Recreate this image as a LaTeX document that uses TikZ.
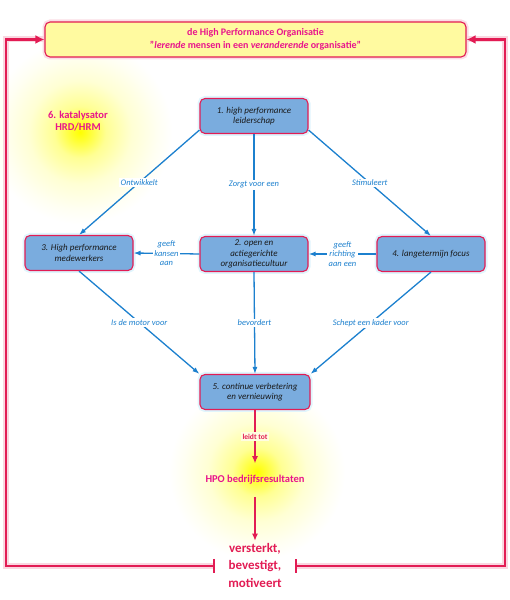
\documentclass[tikz,border=0pt]{standalone}
\usepackage{fontspec}
\setmainfont{Carlito}
\usepackage{xcolor}
\usetikzlibrary{
  arrows.meta
}
\definecolor{hpored}{RGB}{226,28,84}
\definecolor{hpomagenta}{RGB}{232,20,140}
\definecolor{boxblue}{RGB}{122,172,222}
\definecolor{relblue}{RGB}{28,128,206}
\definecolor{topyellow}{RGB}{255,250,160}
\definecolor{paleglow}{RGB}{255,253,225}
\pgfdeclareradialshading{glow}{\pgfpointorigin}{%
  color(0bp)=(yellow); color(2.5bp)=(yellow!80!white);
  color(7bp)=(yellow!42!white); color(14bp)=(yellow!17!white);
  color(21bp)=(yellow!5!white); color(25bp)=(white); color(50bp)=(white)}

\begin{document}
\begin{tikzpicture}[x=1pt, y=1pt,
  every node/.style = {align=center},
  hpobox/.style = {shape=rectangle, rounded corners=5pt,
    draw=hpored, line width=1.1pt, fill=boxblue, text=black!90,
    minimum width=108pt, minimum height=35pt, inner sep=2pt,
    font=\itshape\fontsize{9}{10.5}\selectfont,
    preaction={draw=cyan!12, line width=5pt}},
  relation/.style = {draw=relblue, line width=1.3pt,
    -{Latex[length=7pt,width=5pt]}},
  rellabel/.style = {fill=white, inner sep=1.5pt, text=relblue,
    font=\itshape\fontsize{8.5}{9.5}\selectfont},
  feedback/.style = {draw=hpored, line width=2.6pt,
    {Bar[width=14pt,line width=2pt]}-{Latex[length=9pt,width=9pt]},
    preaction={draw=hpored!18, line width=6pt, -}},
  outcome/.style = {draw=hpored, line width=1.2pt,
    -{Latex[length=7pt,width=6pt]}}]

  \useasboundingbox (0,0) rectangle (510,600);

  % glows
  \shade[shading=glow] (80,468) circle (92pt);
  \shade[shading=glow] (257,128) circle (88pt);

  % top box
  \node (hpo) at (255.5,560.5) [shape=rectangle, rounded corners=5pt,
    draw=hpored, line width=1.1pt, fill=topyellow, text=hpomagenta,
    minimum width=421pt, minimum height=35pt,
    font=\bfseries\fontsize{10}{12.5}\selectfont,
    preaction={draw=hpored!15, line width=5pt}]
    {de High Performance Organisatie\\
     "\textit{lerende} mensen in een \textit{veranderende} organisatie"};

  \node (catalyst) at (78,479) [text=hpomagenta,
    font=\bfseries\fontsize{10.5}{12.5}\selectfont]
    {6. katalysator\\HRD/HRM};

  % the five building blocks
  \node[hpobox] (lead)    at (254,484) {1. high performance\\leiderschap};
  \node[hpobox] (culture) at (254,346) {2. open en\\actiegerichte\\organisatiecultuur};
  \node[hpobox] (staff)   at (79,347)  {3. High performance\\medewerkers};
  \node[hpobox] (focus)   at (431,346) {4. langetermijn focus};
  \node[hpobox, minimum width=110pt] (improve) at (255,208)
    {5. continue verbetering\\en vernieuwing};

  \node (results) at (255,120) [text=hpomagenta, inner ysep=12pt,
    font=\bfseries\fontsize{10.5}{12.5}\selectfont]
    {HPO bedrijfsresultaten};
  \node (effect) at (255,35) [text=hpored, inner sep=2pt,
    font=\bfseries\fontsize{13}{17.5}\selectfont]
    {versterkt,\\bevestigt,\\motiveert};

  % relations
  \draw[relation] ([yshift=4pt]lead.south west) -- node[rellabel] {Ontwikkelt} (staff.north);
  \draw[relation] (lead.south) -- node[rellabel] {Zorgt voor een} (culture.north);
  \draw[relation] ([yshift=4pt]lead.south east) -- node[rellabel] {Stimuleert} (focus.north);
  \draw[relation] (culture.west) -- node[rellabel] {geeft\\kansen\\aan} (staff.east);
  \draw[relation] (focus.west) -- node[rellabel] {geeft\\richting\\aan een} (culture.east);
  \draw[relation] (staff.south) -- node[rellabel] {Is de motor voor} (improve.north west);
  \draw[relation] (culture.south) -- node[rellabel] {bevordert} (improve.north);
  \draw[relation] (focus.south) -- node[rellabel] {Schept een kader voor} (improve.north east);

  % outcome
  \draw[outcome] (improve.south) -- node[fill=paleglow, inner sep=1.5pt,
    text=hpored, font=\bfseries\fontsize{7.5}{8.5}\selectfont] {leidt tot} (results.north);
  \draw[outcome] (results.south) -- (effect.north);

  % feedback loop
  \coordinate (barleft)  at (215,34);
  \coordinate (barright) at (295,34);
  \draw[feedback] (barleft) -- (6,34) -- (6,560.5) -- (hpo.west);
  \draw[feedback] (barright) -- (505,34) -- (505,560.5) -- (hpo.east);
\end{tikzpicture}
\end{document}
